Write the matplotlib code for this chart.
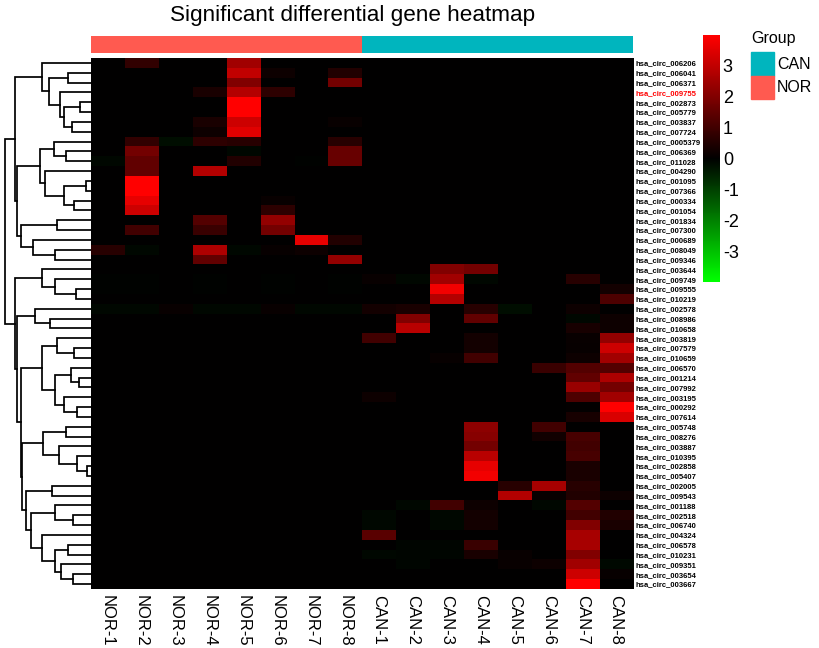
import numpy as np
import matplotlib
matplotlib.use("Agg")
import matplotlib.pyplot as plt
from matplotlib.colors import LinearSegmentedColormap
from matplotlib.patches import Rectangle

plt.rcParams['font.family'] = ['Liberation Sans', 'DejaVu Sans']

W, H = 819, 648

circ_ids = ["006206", "006041", "006371", "009755", "002873", "005779", "003837", "007724", "0005379",
            "006369", "011028", "004290", "001095", "007366", "000334", "001054", "001834", "007300",
            "000689", "008049", "009346", "003644", "009749", "009555", "010219", "002578", "008986",
            "010658", "003819", "007579", "010659", "006570", "001214", "007992", "003195", "000292",
            "007614", "005748", "008276", "003887", "010395", "002858", "005407", "002005", "009543",
            "001188", "002518", "006740", "004324", "006578", "010231", "009351", "003654", "003667"]
highlight_id = "009755"

nor_samples = ["NOR-1", "NOR-2", "NOR-3", "NOR-4", "NOR-5", "NOR-6", "NOR-7", "NOR-8"]
can_samples = ["CAN-1", "CAN-2", "CAN-3", "CAN-4", "CAN-5", "CAN-6", "CAN-7", "CAN-8"]

# one table per sample: {row: value}, every other cell reads as about 0
nor_1 = {10: -0.1, 19: 0.6, 22: -0.05, 23: -0.05, 25: -0.1}
nor_2 = {0: 0.75, 8: 0.75, 9: 1.8, 10: 1.5, 11: 1.5, 12: 4.0, 13: 4.0, 14: 3.6, 15: 3.2, 17: 1.0,
         19: -0.1, 22: -0.05, 23: -0.05, 25: -0.1}
nor_3 = {8: -0.2, 25: 0.15}
nor_4 = {3: 0.4, 6: 0.4, 7: 0.2, 8: 0.7, 11: 2.8, 16: 1.3, 17: 0.9, 19: 2.7, 20: 1.5, 22: -0.05, 23: -0.05, 25: -0.1}
nor_5 = {0: 2.5, 1: 3.0, 2: 2.0, 3: 2.8, 4: 4.0, 5: 4.0, 6: 3.2, 7: 3.5, 8: 0.6, 9: -0.1, 10: 0.5, 19: -0.1, 25: -0.1}
nor_6 = {1: 0.2, 3: 0.7, 14: 0.15, 15: 0.7, 16: 2.3, 17: 1.8, 19: 0.1, 22: -0.05, 23: -0.05, 25: 0.15}
nor_7 = {10: -0.05, 18: 3.6, 19: 0.2, 25: -0.1}
nor_8 = {1: 0.5, 2: 1.8, 6: 0.15, 8: 0.6, 9: 1.6, 10: 1.6, 18: 0.5, 20: 2.3, 22: -0.05, 23: -0.05, 25: -0.1}
can_1 = {22: 0.15, 25: 0.3, 28: 1.0, 34: 0.2, 46: -0.1, 47: -0.1, 48: 1.4, 50: -0.1}
can_2 = {22: -0.1, 25: 0.4, 26: 2.0, 27: 2.9, 45: -0.1, 49: -0.07, 50: -0.07, 51: -0.07}
can_3 = {21: 2.0, 22: 2.5, 23: 3.8, 24: 2.8, 30: 0.1, 45: 1.0, 46: -0.1, 47: -0.1, 49: -0.07, 50: -0.07}
can_4 = {21: 1.8, 22: -0.1, 25: 0.6, 26: 1.5, 28: 0.3, 29: 0.3, 30: 1.0, 37: 2.2, 38: 2.1, 39: 1.8, 40: 2.9,
         41: 3.6, 42: 3.8, 45: 0.2, 46: 0.3, 47: 0.3, 49: 0.9, 50: 0.4}
can_5 = {25: -0.2, 43: 0.6, 44: 2.8, 50: 0.15, 51: 0.15}
can_6 = {31: 0.9, 37: 1.0, 38: 0.25, 43: 2.6, 44: 0.15, 45: -0.1, 51: 0.2}
can_7 = {22: 0.6, 25: 0.2, 26: -0.1, 27: 0.35, 28: 0.15, 29: 0.1, 30: 0.2, 31: 1.3, 32: 1.5, 33: 2.4, 34: 1.2,
         35: 0.05, 36: 0.35, 38: 1.1, 39: 1.0, 40: 1.1, 41: 0.4, 42: 0.4, 43: 0.6, 44: 0.5, 45: 1.3, 46: 1.0,
         47: 2.0, 48: 2.6, 49: 2.6, 50: 2.0, 51: 2.5, 52: 3.2, 53: 4.0}
can_8 = {23: 0.3, 24: 1.2, 26: 0.2, 27: 0.2, 28: 2.3, 29: 3.2, 30: 2.5, 31: 1.3, 32: 2.7, 33: 1.8, 34: 2.5,
         35: 4.0, 36: 3.4, 44: 0.2, 46: 0.5, 47: 0.4, 51: -0.15, 52: 0.1}
sample_values = [nor_1, nor_2, nor_3, nor_4, nor_5, nor_6, nor_7, nor_8,
                 can_1, can_2, can_3, can_4, can_5, can_6, can_7, can_8]

# row clustering as (merge height, upper child, lower child), a child is a row number or another merge
cluster_a = (145, 0, (124, (67, 1, 2), (92, 3, (80, (32, 4, 5), (57, 6, 7)))))
cluster_b = (152, (110, 8, (75, 9, 10)), (137, 11, (80, (14, 12, 13), (50, 14, 15))))
cluster_c = (210, (100, 16, 17), (174, 18, (107, 19, 20)))
cluster_d = (147, 21, (107, 22, (44, 23, 24)))
cluster_e = (167, 25, (122, 26, 27))
cluster_f = (147, (100, 28, (50, 29, 30)), (107, (60, 31, (34, 32, 33)), (80, 34, (40, 35, 36))))
cluster_g = (144, (75, 37, 38), (94, 39, (42, 40, (12, 41, 42))))
cluster_h = (194, (117, 43, 44), (180, (107, 45, (54, 46, 47)), (147, 48, (107, (67, 49, 50), (90, 51, (52, 52, 53))))))
row_tree = (257, (227, cluster_a, (220, cluster_b, cluster_c)),
            (227, cluster_d, (222, cluster_e, (210, cluster_f, (207, cluster_g, cluster_h)))))


def px_axes(fig, left, top, right, bottom):
    return fig.add_axes([left / W, 1 - bottom / H, (right - left) / W, (bottom - top) / H])


def draw_tree(ax, node):
    if isinstance(node, int):
        return 0, node + 0.5
    height, upper, lower = node
    h1, y1 = draw_tree(ax, upper)
    h2, y2 = draw_tree(ax, lower)
    ax.plot([h1, height, height, h2], [y1, y1, y2, y2], color="black", lw=1.25, solid_joinstyle="miter")
    return height, (y1 + y2) / 2


matrix = np.zeros((len(circ_ids), len(sample_values)))
for col, values in enumerate(sample_values):
    for row, value in values.items():
        matrix[row, col] = value

cmap = LinearSegmentedColormap.from_list("gbr", ["#00FF00", "#000000", "#FF0000"])

fig = plt.figure(figsize=(W / 100, H / 100), dpi=100)

ax = px_axes(fig, 90.5, 58, 633, 589)
mesh = ax.imshow(matrix, cmap=cmap, vmin=-4, vmax=4, aspect="auto", interpolation="nearest")
ax.set_xticks(range(16))
ax.set_xticklabels(nor_samples + can_samples, rotation=-90, fontsize=12)
ax.set_yticks(range(len(circ_ids)))
ax.set_yticklabels(["hsa_circ_" + c for c in circ_ids], fontsize=5.5, fontweight="bold")
ax.yaxis.tick_right()
ax.tick_params(length=0, pad=1.5)
ax.tick_params(axis="x", pad=4)
for label in ax.get_yticklabels():
    if label.get_text().endswith(highlight_id):
        label.set_color("red")
for spine in ax.spines.values():
    spine.set_visible(False)

# group strip above the heatmap
strip = px_axes(fig, 90.5, 36, 633, 53)
strip.barh(0, len(nor_samples), left=0, height=1, color="#FF5A50")
strip.barh(0, len(can_samples), left=len(nor_samples), height=1, color="#00B5BE")
strip.set_xlim(0, 16)
strip.set_ylim(-0.5, 0.5)
strip.axis("off")

dendro = px_axes(fig, 0, 58, 90.7, 589)
draw_tree(dendro, row_tree)
dendro.set_xlim(272, 0)
dendro.set_ylim(len(circ_ids), 0)
dendro.axis("off")

cax = px_axes(fig, 703, 35, 720, 282)
cbar = fig.colorbar(mesh, cax=cax, ticks=[-3, -2, -1, 0, 1, 2, 3])
cbar.outline.set_visible(False)
cbar.ax.tick_params(length=0, labelsize=13, pad=2)
cbar.ax.set_yticklabels(["-3", "-2", "-1", "0", "1", "2", "3"])

fig.text(353 / W, 1 - 16 / H, "Significant differential gene heatmap", ha="center", va="center", fontsize=16.2)

fig.text(751 / W, 1 - 38 / H, "Group", ha="left", va="center", fontsize=11.5)
fig.patches.append(Rectangle((751 / W, 1 - 76 / H), 23 / W, 24 / H, transform=fig.transFigure, color="#00B5BE"))
fig.patches.append(Rectangle((751 / W, 1 - 99 / H), 23 / W, 23 / H, transform=fig.transFigure, color="#FF5A50"))
fig.text(777 / W, 1 - 64.5 / H, "CAN", ha="left", va="center", fontsize=11.5)
fig.text(777 / W, 1 - 88 / H, "NOR", ha="left", va="center", fontsize=11.5)

fig.savefig("out.png", dpi=100)
